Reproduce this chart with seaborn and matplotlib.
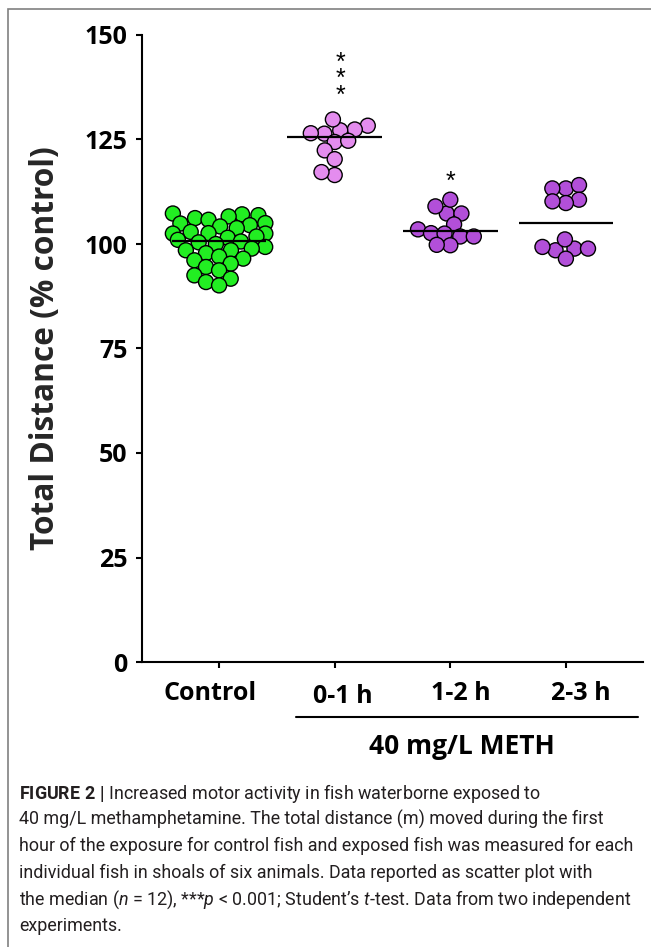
import numpy as np
import pandas as pd
import matplotlib
matplotlib.use("Agg")
import matplotlib.pyplot as plt
import matplotlib.transforms as mtransforms
from matplotlib import font_manager
from matplotlib.patches import Rectangle
import seaborn as sns

# ---------------- data ----------------
groups = ["Control", "0-1 h", "1-2 h", "2-3 h"]
control = [107.3, 107.1, 106.9, 106.6, 106.2, 105.8, 105.0, 104.9, 104.5,
           104.2, 103.8, 102.9, 102.6, 102.5, 102.5, 101.8, 101.5, 101.0,
           100.6, 100.4, 100.0, 99.3, 98.9, 98.5, 98.5, 97.8, 97.0, 96.5,
           96.1, 95.3, 94.5, 93.7, 92.5, 91.7, 90.9, 90.1]
meth_0_1 = [128.3, 127.4, 126.4, 127.2, 129.8, 126.5, 124.4, 124.7, 122.4,
            120.3, 116.5, 117.2]
meth_1_2 = [107.3, 109.0, 110.6, 107.3, 104.7, 103.5, 101.8, 101.8, 102.6,
            102.5, 99.7, 99.8]
meth_2_3 = [113.3, 114.1, 113.3, 110.6, 109.8, 110.2, 98.5, 99.3, 98.9,
            98.9, 101.1, 96.5]
medians = [100.8, 125.5, 103.0, 105.1]
yticks = [0, 25, 50, 75, 100, 125, 150]
star_labels = ["", "*\n*\n*", "*", ""]
star_base = [None, 136.3, 115.7, None]   # value of the lowest asterisk
ylabel = "Total Distance (% control)"
bracket_label = "40 mg/L METH"
caption_lines = [
    r"$\mathbf{FIGURE\ 2\ |}$ Increased motor activity in fish waterborne exposed to",
    "40 mg/L methamphetamine. The total distance (m) moved during the first",
    "hour of the exposure for control fish and exposed fish was measured for each",
    "individual fish in shoals of six animals. Data reported as scatter plot with",
    r"the median ($\mathit{n}$ = 12), ***$\mathit{p}$ < 0.001; Student’s $\mathit{t}$-test. Data from two independent",
    "experiments.",
]
colors = ["#22EE22", "#E48CEE", "#B24FD9", "#B24FD9"]

# ---------------- style ----------------
sns.set_theme(style="ticks")
plt.rcParams['font.family'] = ['Open Sans', 'DejaVu Sans']
names = {f.name for f in font_manager.fontManager.ttflist}
cap_font = 'Liberation Sans Narrow' if 'Liberation Sans Narrow' in names else 'Roboto'
plt.rcParams['mathtext.fontset'] = 'custom'
plt.rcParams['mathtext.rm'] = cap_font
plt.rcParams['mathtext.it'] = cap_font + ':italic'
plt.rcParams['mathtext.bf'] = cap_font + ':bold'

W, H = 651, 947
fig = plt.figure(figsize=(W / 100, H / 100), dpi=100)
fig.patch.set_facecolor("white")
ax = fig.add_axes([142 / W, 1 - 662 / H, 501 / W, 627 / H])

values = [control, meth_0_1, meth_1_2, meth_2_3]
df = pd.DataFrame({
    "group": np.repeat(groups, [len(v) for v in values]),
    "value": np.concatenate(values),
})

layout_size = 8.3
final_size = 10.8
sns.swarmplot(data=df, x="group", y="value", hue="group", order=groups,
              hue_order=groups, palette=colors, size=layout_size,
              edgecolor="black", linewidth=1.0, legend=False, ax=ax, zorder=3)

ax.set_xlim(-0.667, 3.667)
ax.set_ylim(0, 150)
ax.set_yticks(yticks)
ax.set_xticks(range(len(groups)), labels=groups)
ax.set_xlabel("")
ax.set_ylabel(ylabel, fontsize=22.8, fontweight="bold", labelpad=0)
ax.yaxis.set_label_coords(-0.192, 0.5)
ax.yaxis.label.set(ha="center", va="center", rotation_mode="default")

for s in ["top", "right"]:
    ax.spines[s].set_visible(False)
for s in ["left", "bottom"]:
    ax.spines[s].set_linewidth(1.5)
    ax.spines[s].set_color("black")
ax.tick_params(axis="both", direction="out", length=4.5, width=1.5,
               color="black", labelcolor="black")
ax.tick_params(axis="y", pad=6, labelsize=18)
ax.tick_params(axis="x", pad=9, labelsize=18)
for lab in ax.get_yticklabels() + ax.get_xticklabels():
    lab.set_fontweight("bold")
ax.set_facecolor("white")

# compute swarm layout with the compact size, then freeze and enlarge markers
fig.canvas.draw()
for coll in ax.collections:
    if "draw" in coll.__dict__:
        del coll.draw
    coll.set_sizes([final_size ** 2])

# median lines
for i, m in enumerate(medians):
    ax.plot([i - 0.41, i + 0.41], [m, m], color="black", lw=1.6,
            solid_capstyle="butt", zorder=5)

# significance stars
for i, (lab, base) in enumerate(zip(star_labels, star_base)):
    if not lab:
        continue
    dx = 0.05 if "\n" in lab else 0.0
    ax.text(i + dx, base - 2.6, lab, ha="center", va="baseline",
            linespacing=0.62, fontsize=18, family="Liberation Sans",
            color="black", zorder=6)

# x tick label offsets (pixels)
offs = [(-9, 0), (8.5, -3), (10.5, 0), (14.5, 0)]
for lab, (dx, dy) in zip(ax.get_xticklabels(), offs):
    lab.set_transform(lab.get_transform() +
                      mtransforms.ScaledTranslation(dx / 100, dy / 100, fig.dpi_scale_trans))

# bracket under the METH groups
tr = ax.get_xaxis_transform()
ax.plot([0.666, 3.622], [(662 - 717) / 627] * 2, color="black", lw=1.5,
        transform=tr, clip_on=False)
ax.text(2.10, (662 - 747) / 627, bracket_label, transform=tr, ha="center",
        va="center", fontsize=19, fontweight="bold", color="black")

# caption
renderer = fig.canvas.get_renderer()
t = fig.text(0, 0, caption_lines[2], fontsize=10, family=cap_font)
w = t.get_window_extent(renderer).width
t.remove()
cap_size = 10 * 617 / w
for k, line in enumerate(caption_lines):
    fig.text(19 / W, 1 - (793 + 26.6 * k) / H, line, fontsize=cap_size,
             family=cap_font, color="#231F20", ha="left", va="center")

# outer frame
fig.add_artist(Rectangle((8 / W, -0.05), 1.1, 1.05 - 8.5 / H, transform=fig.transFigure,
                         fill=False, edgecolor="#808080", lw=1.2, clip_on=False))

fig.savefig("out.png", dpi=100, facecolor="white")
